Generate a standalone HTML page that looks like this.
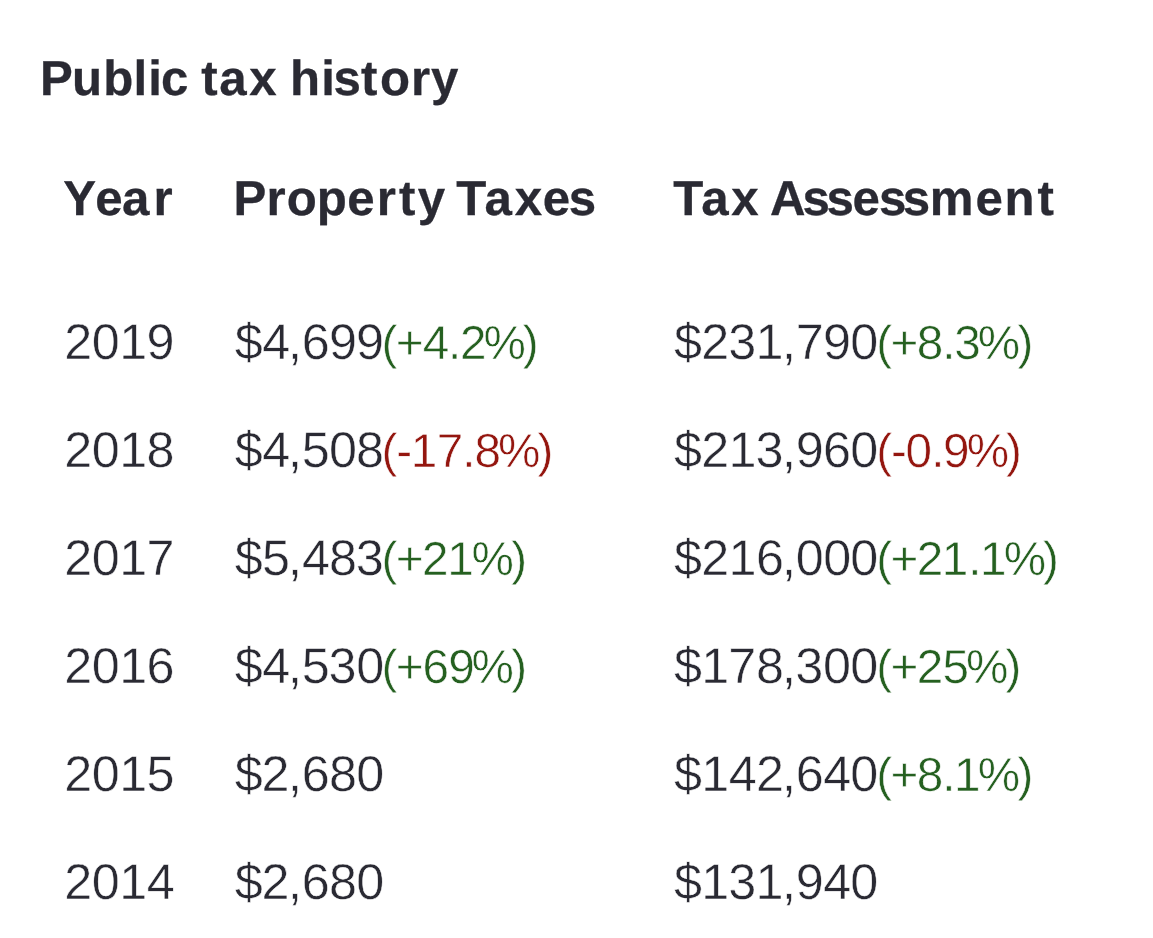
<!DOCTYPE html>
<html lang="en">
<head>
<meta charset="utf-8">
<title>Public tax history</title>
<style>
  html, body { margin: 0; padding: 0; background: #ffffff; }
  body {
    width: 1153px; height: 938px; overflow: hidden; position: relative;
    font-family: "Liberation Sans", Arial, Helvetica, sans-serif;
    font-size: 50.3px; color: #2a2a33;
  }
  h2 { position: absolute; left: 0; top: 25px; margin: 0; padding: 0; height: 108px; font-size: 49.2px; will-change: transform; }
  table { position: absolute; left: 0; top: 145px; border-collapse: collapse; table-layout: fixed; width: 1153px; will-change: transform; }
  col.c1 { width: 200px; } col.c2 { width: 440px; } col.c3 { width: 513px; }
  th, td { padding: 0; margin: 0; height: 108px; text-align: left; }
  th { font-size: 49.2px; }
  tr.gap td { height: 36px; }
  svg { display: block; overflow: visible; }
  text {
    font-family: "Liberation Sans", Arial, Helvetica, sans-serif;
    text-rendering: geometricPrecision; white-space: pre;
    fill: #2a2a33; stroke: #ffffff; stroke-width: 0.5px;
  }
  h2 text, th text { font-weight: 700; stroke: #2a2a33; stroke-width: 0.3px; }
  text.up, text.dn { font-size: 47.7px; stroke-width: 0.55px; }
  td:first-child text { stroke-width: 0.5px; }
  text.up { fill: #256020; }
  text.dn { fill: #94160f; }
</style>
</head>
<body>
<h2><svg width="1153" height="108" viewBox="0 0 1153 108"><text x="39.98" y="70" dx="0 -0.68 1.08 0.31 1.03 -0.93 0 -0.77 1.47 2.72 0 -0.38 1.35 -1.5 0.26 2.43 0.99 0.97">Public tax history</text></svg></h2>
<table>
  <colgroup><col class="c1"><col class="c2"><col class="c3"></colgroup>
  <thead>
    <tr><th><svg width="200" height="108" viewBox="0 0 200 108"><text x="63.23" y="70" dx="0 1.87 -0.44 4.08">Year</text></svg></th><th><svg width="440" height="108" viewBox="0 0 440 108"><text x="33.56" y="70" dx="0 0.22 0.97 0.07 0.25 2.33 3.05 2.21 0 -2.32 1.74 2.8 0.74 -1.26">Property Taxes</text></svg></th><th><svg width="513" height="108" viewBox="0 0 513 108"><text x="33.14" y="70" dx="0 1.71 2.75 0 -0.47 -3.07 -3.3 -1.58 -0.78 -3.62 -0.22 2.01 1.55 2.83">Tax Assessment</text></svg></th></tr>
  </thead>
  <tbody>
    <tr class="gap"><td></td><td></td><td></td></tr>
    <tr><td><svg width="200" height="108" viewBox="0 0 200 108"><text x="64.26" y="70" dx="0 -0.53 -0.51 -0.71">2019</text></svg></td><td><svg width="440" height="108" viewBox="0 0 440 108"><text x="34.8" y="70" dx="0 -0.62 -2.23 -0.16 -0.82 -0.78">$4,699</text><text class="up" x="181.59" y="70" dx="0 -1.61 -1.02 -1.36 -1.07 -3.02 -3.16">(+4.2%)</text></svg></td><td><svg width="513" height="108" viewBox="0 0 513 108"><text x="33.96" y="70" dx="0 -0.78 -1.01 -0.6 -1.61 -0.18 -0.65 -0.68">$231,790</text><text class="up" x="236.2" y="70" dx="0 -1.59 -1.53 -1.04 -1.43 -2.84 -2.76">(+8.3%)</text></svg></td></tr>
    <tr><td><svg width="200" height="108" viewBox="0 0 200 108"><text x="64.26" y="70" dx="0 -0.53 -0.51 -0.67">2018</text></svg></td><td><svg width="440" height="108" viewBox="0 0 440 108"><text x="34.8" y="70" dx="0 -0.62 -2.23 -0.16 -0.7 -0.89">$4,508</text><text class="dn" x="181.61" y="70" dx="0 -1.23 -1.5 -0.36 -1.16 -0.98 -2.92 -3.09">(-17.8%)</text></svg></td><td><svg width="513" height="108" viewBox="0 0 513 108"><text x="33.96" y="70" dx="0 -0.78 -0.6 -1.06 -1.56 -0.13 -0.66 -0.71">$213,960</text><text class="dn" x="236.2" y="70" dx="0 -1.15 -1.3 -0.87 -1.4 -2.92 -2.94">(-0.9%)</text></svg></td></tr>
    <tr><td><svg width="200" height="108" viewBox="0 0 200 108"><text x="64.26" y="70" dx="0 -0.53 -0.51 -0.71">2017</text></svg></td><td><svg width="440" height="108" viewBox="0 0 440 108"><text x="34.8" y="70" dx="0 -0.86 -2 0.01 -0.92 -1.2">$5,483</text><text class="up" x="181.59" y="70" dx="0 -1.61 -1.63 -1.5 -2.11 -2.72">(+21%)</text></svg></td><td><svg width="513" height="108" viewBox="0 0 513 108"><text x="33.96" y="70" dx="0 -0.78 -0.6 -0.52 -2.1 -0.01 -0.58 -0.91">$216,000</text><text class="up" x="236.2" y="70" dx="0 -1.59 -1.57 -1.5 -0.19 -1.5 -2.74 -3">(+21.1%)</text></svg></td></tr>
    <tr><td><svg width="200" height="108" viewBox="0 0 200 108"><text x="64.26" y="70" dx="0 -0.53 -0.51 -0.57">2016</text></svg></td><td><svg width="440" height="108" viewBox="0 0 440 108"><text x="34.8" y="70" dx="0 -0.62 -2.23 -0.16 -1.18 -0.18">$4,530</text><text class="up" x="181.59" y="70" dx="0 -1.61 -1.32 -0.76 -3.16 -2.72">(+69%)</text></svg></td><td><svg width="513" height="108" viewBox="0 0 513 108"><text x="33.96" y="70" dx="0 -0.6 -1.07 -0.19 -2.13 -0.64 -0.13 -0.73">$178,300</text><text class="up" x="236.2" y="70" dx="0 -1.59 -1.57 -0.79 -2.95 -2.9">(+25%)</text></svg></td></tr>
    <tr><td><svg width="200" height="108" viewBox="0 0 200 108"><text x="64.26" y="70" dx="0 -0.53 -0.51 -0.69">2015</text></svg></td><td><svg width="440" height="108" viewBox="0 0 440 108"><text x="34.8" y="70" dx="0 -1.3 -1.56 -0.16 -0.76 -0.6">$2,680</text></svg></td><td><svg width="513" height="108" viewBox="0 0 513 108"><text x="33.96" y="70" dx="0 -0.6 -0.51 -0.86 -2.03 -0.1 -0.41 -0.99">$142,640</text><text class="up" x="236.2" y="70" dx="0 -1.59 -1.53 -1.04 -1.5 -2.77 -2.76">(+8.1%)</text></svg></td></tr>
    <tr><td><svg width="200" height="108" viewBox="0 0 200 108"><text x="64.26" y="70" dx="0 -0.53 -0.51 -0.43">2014</text></svg></td><td><svg width="440" height="108" viewBox="0 0 440 108"><text x="34.8" y="70" dx="0 -1.3 -1.56 -0.16 -0.76 -0.6">$2,680</text></svg></td><td><svg width="513" height="108" viewBox="0 0 513 108"><text x="33.96" y="70" dx="0 -0.6 -1.18 -0.6 -1.61 -0.13 -0.39 -0.99">$131,940</text></svg></td></tr>
  </tbody>
</table>
</body>
</html>
